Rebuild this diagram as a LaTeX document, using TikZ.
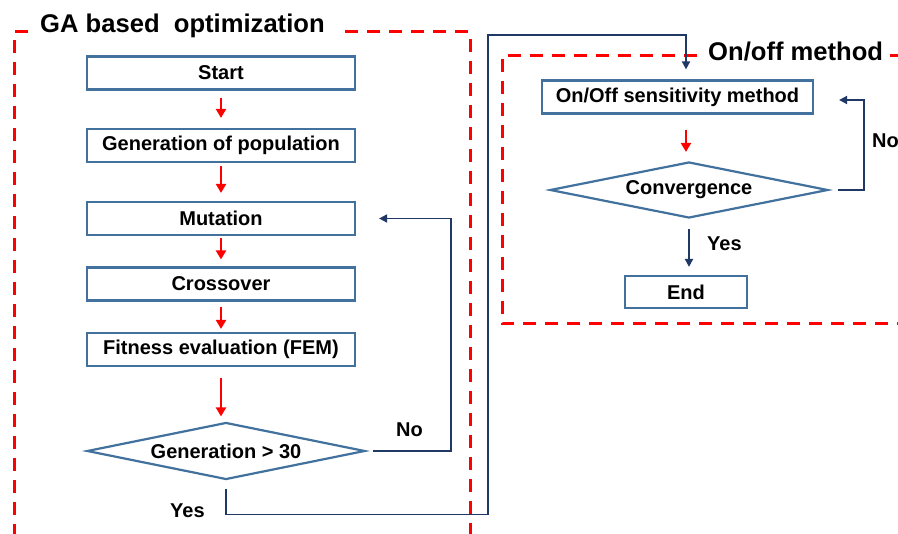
\documentclass[tikz,border=0pt]{standalone}
\usepackage{fontspec}
\setmainfont{Liberation Sans}
\usetikzlibrary{shapes.geometric,arrows.meta}
\definecolor{boxblue}{RGB}{65,113,156}
\definecolor{linknavy}{RGB}{31,56,100}
\newcommand\stepfont{\fontsize{20}{22}\selectfont\bfseries}
\newcommand\titlefont{\fontsize{25.6}{29}\selectfont\bfseries}

\begin{document}
\begin{tikzpicture}[x=1pt,y=-1pt,
  stepbox/.style={draw=boxblue,line width=2.2pt,fill=white,inner sep=0pt,
    minimum width=268pt,minimum height=33pt,font=\stepfont},
  testbox/.style={diamond,aspect=4.9,draw=boxblue,line width=2.2pt,fill=white,inner sep=0pt,
    minimum width=278pt,minimum height=57pt,font=\stepfont},
  framed/.style={draw=red,line width=3pt,dash pattern=on 13pt off 9pt},
  flow/.style={draw=red,line width=2.2pt,-{Triangle[length=9pt,width=10pt]}},
  loopback/.style={draw=linknavy,line width=1.8pt,-{Triangle[length=8pt,width=8pt]}},
  tag/.style={inner sep=0pt,font=\stepfont}]
\useasboundingbox (0,0) rectangle (898,534);
\fill[white] (0,0) rectangle (898,534);
% Drawing frames
\draw[framed] (28,32) -- (14,32) -- (14,560);
\draw[framed] (345,32) -- (470,32) -- (470,560);
\draw[framed] (697,56) -- (502,56) -- (502,324) -- (920,324);
\draw[framed] (890,56) -- (920,56);
\node[inner sep=0pt,anchor=west,font=\titlefont] (gatitle) at (40,26) {GA based\ \ optimization};
\node[inner sep=0pt,anchor=west,font=\titlefont] (ontitle) at (708,51) {On/off method};
% Done with frames; drawing steps
% GA side
\node[stepbox] (start) at (221,73) {Start};
\node[stepbox] (popu) at (221,145.5) {Generation of population};
\node[stepbox] (mutate) at (221,218.5) {Mutation};
\node[stepbox] (cross) at (221,284) {Crossover};
\node[stepbox] (fitness) at (221,349.5) {Fitness evaluation (FEM)};
\node[testbox] (gencheck) at (226,451) {Generation > 30};
% On/off side
\node[stepbox,minimum width=271pt] (onoff) at (677.5,97) {On/Off sensitivity method};
\node[testbox,minimum height=56pt] (conv) at (689,190) {Convergence};
\node[stepbox,minimum width=122pt,minimum height=32pt] (finish) at (686,292) {End};
% Done with steps; drawing arrows
\draw[flow,shorten <=7pt,shorten >=10pt] (start.south) -- (popu.north);
\draw[flow,shorten <=3pt,shorten >=8pt] (popu.south) -- (mutate.north);
\draw[flow,shorten <=2pt,shorten >=7pt] (mutate.south) -- (cross.north);
\draw[flow,shorten <=5pt,shorten >=3pt] (cross.south) -- (fitness.north);
\draw[flow,shorten <=11pt,shorten >=5pt] (fitness.south) -- (fitness.south |- gencheck.north);
\draw[flow,shorten <=15pt,shorten >=9pt] ([xshift=8.5pt]onoff.south) -- ([xshift=8.5pt]onoff.south |- conv.north);
% No: back to mutation
\draw[loopback] ([xshift=7pt]gencheck.east) -| ([xshift=95pt]mutate.east |- mutate.east) -- ([xshift=23pt]mutate.east);
\node[tag,anchor=west] (gano) at (396,430) {No};
% Yes: over to the on/off method
\coordinate (hop) at (488,35);
\draw[loopback] ([yshift=-8pt]gencheck.south) -- ++(0,26) -| (hop) -| ([xshift=8.5pt,yshift=10pt]onoff.north);
\node[tag,anchor=west] (gayes) at (170,511) {Yes};
% No: back to on/off sensitivity
\draw[loopback] ([xshift=9pt]conv.east) -| ([xshift=50pt,yshift=-3pt]onoff.east) -- ([xshift=25pt,yshift=-3pt]onoff.east);
\node[tag,anchor=west] (convno) at (872,141) {No};
% Yes: to the end
\draw[loopback,line width=2.6pt,shorten <=10pt,shorten >=8pt] (conv.south) -- (conv.south |- finish.north);
\node[tag,anchor=west] (convyes) at (707,244) {Yes};
% Done with arrows
\end{tikzpicture}
\end{document}
